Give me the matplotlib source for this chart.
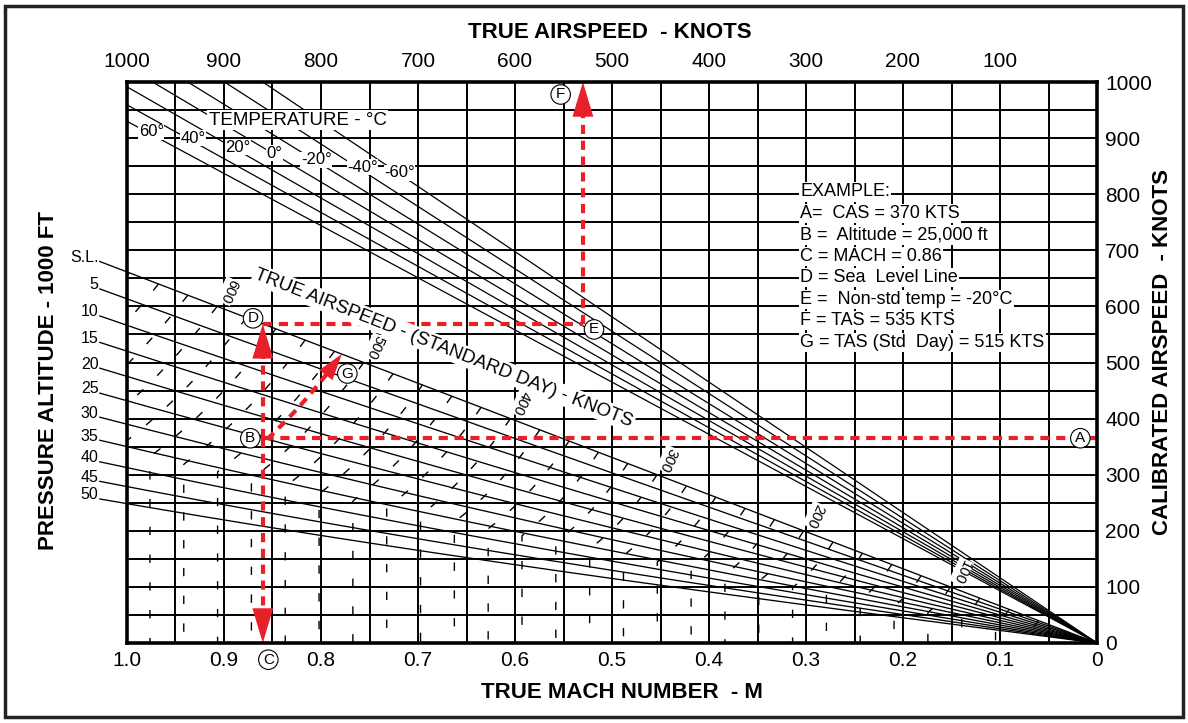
import numpy as np
import matplotlib
matplotlib.use("Agg")
import matplotlib.pyplot as plt
from matplotlib.patches import Rectangle

# ---------------- data ----------------
mach_ticks = [1.0, 0.9, 0.8, 0.7, 0.6, 0.5, 0.4, 0.3, 0.2, 0.1, 0.0]
mach_tick_labels = ["1.0", "0.9", "0.8", "0.7", "0.6", "0.5", "0.4", "0.3", "0.2", "0.1", "0"]
tas_ticks = [1000, 900, 800, 700, 600, 500, 400, 300, 200, 100]
cas_ticks = [0, 100, 200, 300, 400, 500, 600, 700, 800, 900, 1000]
altitudes_kft = [0, 5, 10, 15, 20, 25, 30, 35, 40, 45, 50]
altitude_labels = ["S.L.", "5", "10", "15", "20", "25", "30", "35", "40", "45", "50"]
temperatures_c = [60, 40, 20, 0, -20, -40, -60]
temperature_labels = ["60°", "40°", "20°", "0°", "-20°", "-40°", "-60°"]
std_tas_lines = [20, 40, 60, 80, 100, 120, 140, 160, 180, 200, 220, 240, 260, 280,
                 300, 320, 340, 360, 380, 400, 420, 440, 460, 480, 500, 520, 540,
                 560, 580, 600, 620, 640, 660]
std_tas_labels = [600, 500, 400, 300, 200, 100]
example_lines = ["EXAMPLE:", "A=  CAS = 370 KTS", "B =  Altitude = 25,000 ft",
                 "C = MACH = 0.86", "D = Sea  Level Line", "E =  Non-std temp = -20°C",
                 "F = TAS = 535 KTS", "G = TAS (Std  Day) = 515 KTS"]
ex_cas = 365
ex_alt_kft = 25
ex_mach = 0.86
ex_temp_c = -20
ex_tas = 530
ex_tas_std = 515

# ---------------- atmosphere helpers ----------------
A0 = 661.47


def theta(h):
    h = np.asarray(h, dtype=float)
    return np.where(h <= 36089, 1 - 6.8756e-6 * h, 0.75187)


def delta(h):
    h = np.asarray(h, dtype=float)
    trop = (1 - 6.8756e-6 * np.minimum(h, 36089)) ** 5.2559
    strat = 0.22336 * np.exp(-(h - 36089) / 20806.0)
    return np.where(h <= 36089, trop, strat)


def cas_of(m, h):
    qc = delta(h) * ((1 + 0.2 * np.asarray(m) ** 2) ** 3.5 - 1)
    return A0 * np.sqrt(5 * ((qc + 1) ** (2 / 7) - 1))


# ---------------- figure ----------------
plt.rcParams["font.family"] = ["Liberation Sans", "DejaVu Sans"]
fig = plt.figure(figsize=(11.88, 7.23), dpi=100)
ax = fig.add_axes([127 / 1188, 80 / 723, 970 / 1188, 561 / 723])
ax.set_xlim(1.0, 0.0)
ax.set_ylim(0, 1000)

GRID_LW = 1.4
for m in np.arange(0, 1.0001, 0.05):
    ax.axvline(m, color="black", lw=GRID_LW, zorder=1)
for c in np.arange(0, 1000.1, 50):
    ax.axhline(c, color="black", lw=GRID_LW, zorder=1)

# altitude lines
m_curve = np.linspace(1.028, 0.0, 300)
for h, lab in zip(altitudes_kft, altitude_labels):
    y = cas_of(m_curve, h * 1000)
    ax.plot(m_curve, y, color="black", lw=0.95, zorder=2, clip_on=False)
    ax.annotate(lab, (m_curve[0], y[0]), xytext=(-1, 3), textcoords="offset points",
                ha="right", va="center", fontsize=11.5, zorder=4,
                annotation_clip=False)

# temperature lines (TAS on x, SL-equivalent speed on y)
for t in temperatures_c:
    k = np.sqrt(288.15 / (t + 273.15))
    tas_end = min(1000.0, 1000.0 / k)
    tas = np.array([0.0, tas_end])
    ax.plot(tas / 1000.0, tas * k, color="black", lw=0.9, zorder=2)

# standard-day TAS lines (dashed)
h_curve = np.linspace(0, 50000, 200)
for v in std_tas_lines:
    m = v / (A0 * np.sqrt(theta(h_curve)))
    y = cas_of(m, h_curve)
    xs = np.append(m, m[-1])
    ys = np.append(y, 0)
    ax.plot(xs, ys, color="black", lw=1.0, ls=(0, (6, 14)), zorder=2)

for v in std_tas_labels:
    m0 = v / A0
    ax.annotate(str(v), (m0, v), xytext=(8, 11), textcoords="offset points",
                rotation=-115, ha="center", va="center", fontsize=10.5, zorder=5,
                bbox=dict(facecolor="white", edgecolor="none", pad=0.5))

# labels with white backgrounds
wb = dict(facecolor="white", edgecolor="none", pad=1.0)
ax.text(0.824, 932, "TEMPERATURE - °C", fontsize=13.5, ha="center", va="center",
        zorder=5, bbox=wb)
temp_pos = [(0.975, 911), (0.932, 900), (0.886, 884), (0.848, 873),
            (0.805, 861), (0.757, 848), (0.719, 838)]
for (mx, cy), lab in zip(temp_pos, temperature_labels):
    ax.text(mx, cy, lab, fontsize=12, ha="center", va="center", zorder=5,
            bbox=dict(facecolor="white", edgecolor="none", pad=0.3))

ax.text(0.6735, 526, "TRUE AIRSPEED - (STANDARD DAY) - KNOTS", fontsize=13.5,
        rotation=-21.5, rotation_mode="anchor", ha="center", va="center", zorder=8,
        bbox=dict(facecolor="white", edgecolor="none", pad=1.5))

ey0 = 804
for i, line in enumerate(example_lines):
    ax.text(0.306, ey0 - i * 38.3, line, fontsize=13, ha="left", va="center",
            zorder=5, bbox=dict(facecolor="white", edgecolor="none", pad=0.8))

# ---------------- example path (red) ----------------
RED = "#e8202a"
rd = dict(color=RED, lw=3.0, ls=(0, (2.2, 1.6)), zorder=7, solid_capstyle="butt")
cas_d = float(cas_of(ex_mach, 0))
ax.plot([0.0, ex_mach], [ex_cas, ex_cas], **rd)
ax.plot([ex_mach, ex_mach], [ex_cas, 40], **rd)
ax.plot([ex_mach, ex_mach], [ex_cas, cas_d - 40], **rd)
ax.plot([ex_mach, ex_tas / 1000], [cas_d, cas_d], **rd)
ax.plot([ex_tas / 1000, ex_tas / 1000], [cas_d, 960], **rd)
hg = np.linspace(ex_alt_kft * 1000, 2500, 60)
mg = ex_tas_std / (A0 * np.sqrt(theta(hg)))
ax.plot(mg, cas_of(mg, hg), **rd)
g_tip = (ex_tas_std / A0, float(cas_of(ex_tas_std / A0, 0)))

ap = dict(arrowstyle="-|>,head_length=2.5,head_width=0.75", color=RED, lw=0,
          shrinkA=0, shrinkB=0)
ax.annotate("", xy=(ex_mach, 0), xytext=(0, 30), textcoords="offset points",
            arrowprops=ap, zorder=9, annotation_clip=False)
ax.annotate("", xy=(ex_mach, cas_d), xytext=(0, -30), textcoords="offset points",
            arrowprops=ap, zorder=9)
ax.annotate("", xy=(ex_tas / 1000, 1000), xytext=(0, -30), textcoords="offset points",
            arrowprops=ap, zorder=9, annotation_clip=False)
m_from = ex_tas_std / (A0 * np.sqrt(theta(6000)))
ax.annotate("", xy=g_tip, xytext=(m_from, float(cas_of(m_from, 6000))),
            arrowprops=dict(arrowstyle="-|>,head_length=1.9,head_width=0.6",
                            color=RED, lw=0, shrinkA=0, shrinkB=0), zorder=9)

# circled letters
cb = dict(boxstyle="circle,pad=0.18", facecolor="white", edgecolor="black", lw=0.8)


def circ(letter, xy, off):
    ax.annotate(letter, xy, xytext=off, textcoords="offset points", ha="center",
                va="center", fontsize=11, bbox=cb, zorder=10, annotation_clip=False)


circ("A", (0.0, ex_cas), (-12, 0))
circ("B", (ex_mach, ex_cas), (-9, 0))
circ("C", (ex_mach, 0), (4, -12))
circ("D", (ex_mach, cas_d), (-7, 4))
circ("E", (ex_tas / 1000, cas_d), (8, -4))
circ("F", (ex_tas / 1000, 1000), (-16, -9))
circ("G", g_tip, (4, -14))

# ---------------- axes / ticks ----------------
for s in ax.spines.values():
    s.set_linewidth(2.6)
    s.set_zorder(11)
ax.set_xticks(mach_ticks)
ax.set_xticklabels(mach_tick_labels)
ax.yaxis.tick_right()
ax.set_yticks(cas_ticks)
ax.tick_params(axis="both", length=0, labelsize=15)
ax.tick_params(axis="x", pad=6)
ax.tick_params(axis="y", pad=6)

ax2 = ax.twiny()
ax2.set_xlim(1000, 0)
ax2.set_xticks(tas_ticks)
ax2.tick_params(axis="x", length=0, labelsize=15, pad=8)
for s in ax2.spines.values():
    s.set_visible(False)

fs_lab = 16
fig.text(610 / 1188, 1 - 32 / 723, "TRUE AIRSPEED  - KNOTS", fontsize=fs_lab,
         fontweight="bold", ha="center", va="center")
fig.text(622 / 1188, 1 - 692 / 723, "TRUE MACH NUMBER  - M", fontsize=fs_lab,
         fontweight="bold", ha="center", va="center")
fig.text(48 / 1188, 1 - 380 / 723, "PRESSURE ALTITUDE - 1000 FT", fontsize=fs_lab,
         fontweight="bold", ha="center", va="center", rotation=90)
fig.text(1163 / 1188, 1 - 352 / 723, "CALIBRATED AIRSPEED  - KNOTS", fontsize=fs_lab,
         fontweight="bold", ha="center", va="center", rotation=90)

fig.patches.append(Rectangle((0.0042, 0.008), 0.9916, 0.9835, transform=fig.transFigure,
                             fill=False, lw=2.5, edgecolor="#222222"))

fig.savefig("out.png", dpi=100)
